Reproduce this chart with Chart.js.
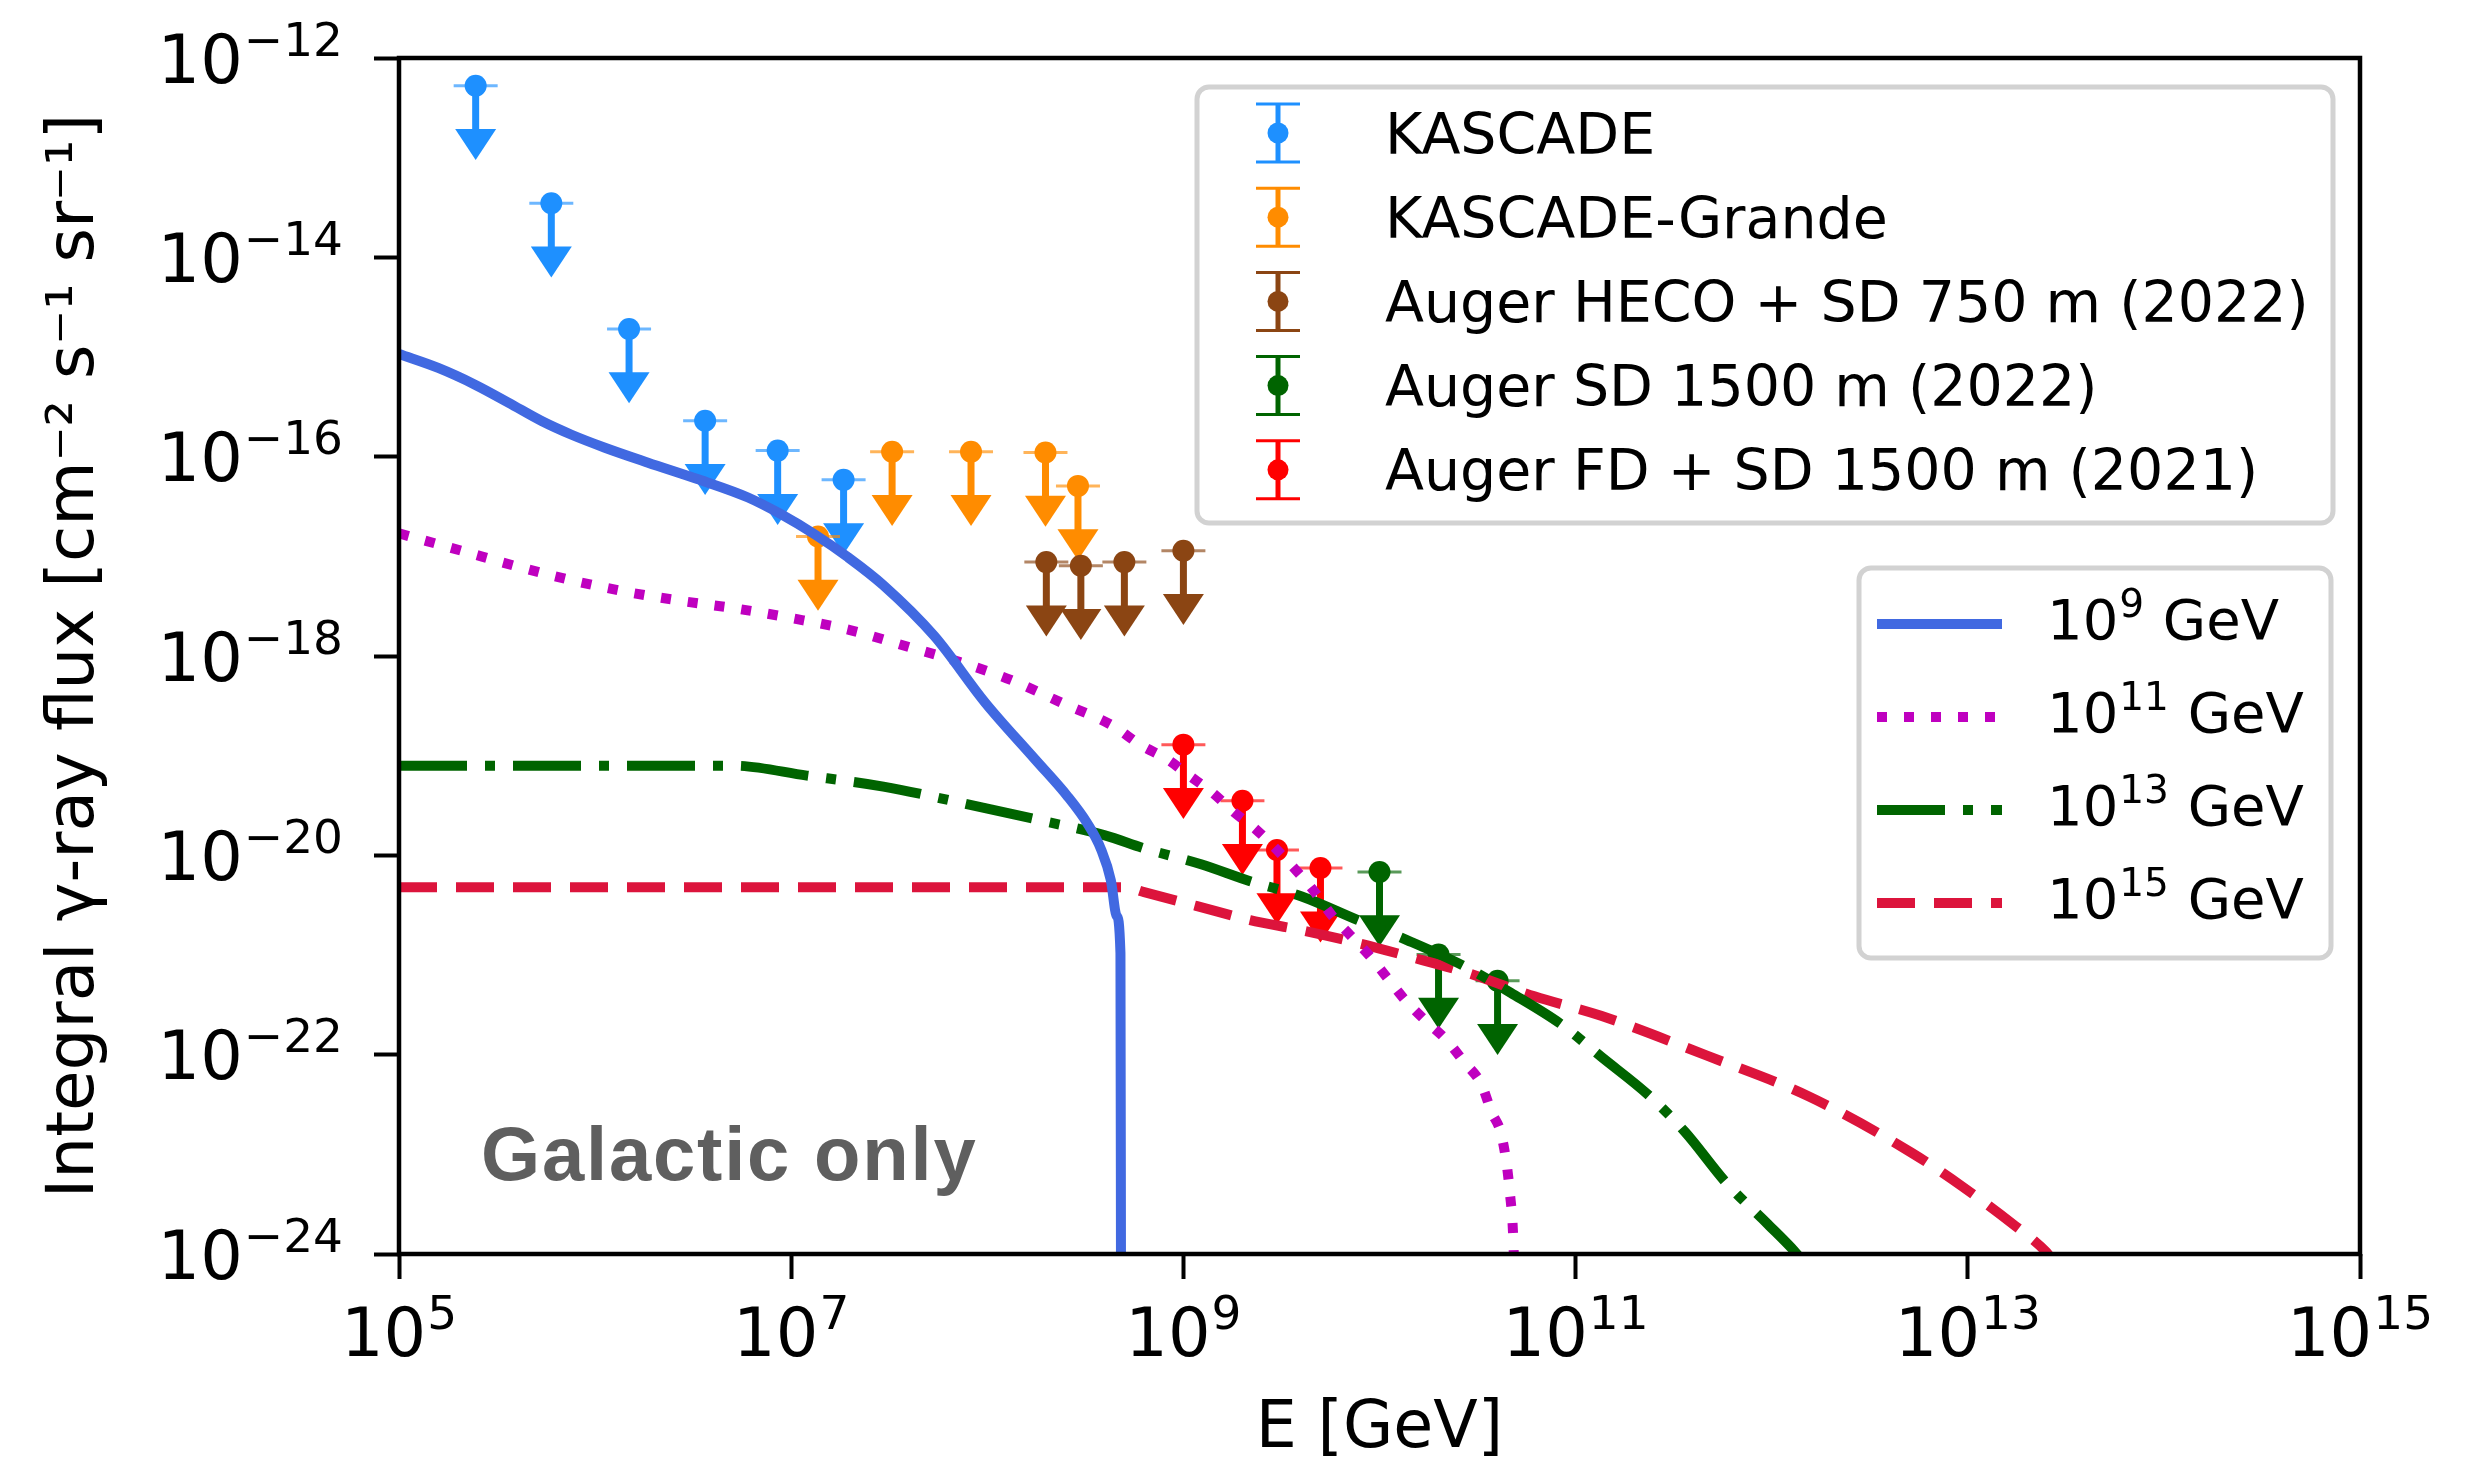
<!DOCTYPE html>
<html lang="en">
<head>
<meta charset="UTF-8">
<title>Integral gamma-ray flux limits</title>
<script src="https://cdn.jsdelivr.net/npm/chart.js"></script>
<style>
  html, body { margin: 0; padding: 0; background: #ffffff; }
  #wrap { width: 2469px; height: 1464px; }
</style>
</head>
<body>
<div id="wrap"><canvas id="chart" width="2469" height="1464"></canvas></div>
<script>
// upper limits: E [GeV] and integral flux [cm^-2 s^-1 sr^-1]
const kascadeE = [2.46e5, 5.98e5, 1.49e6, 3.64e6, 8.53e6, 1.85e7];
const kascadeF = [5.27e-13, 3.49e-14, 1.91e-15, 2.29e-16, 1.15e-16, 5.85e-17];
const grandeE = [1.37e7, 3.27e7, 8.26e7, 1.98e8, 2.90e8];
const grandeF = [1.58e-17, 1.12e-16, 1.12e-16, 1.10e-16, 5.09e-17];
const hecoE = [2e8, 3e8, 5e8, 1e9];
const hecoF = [8.75e-18, 8.04e-18, 8.75e-18, 1.14e-17];
const sd1500E = [1e10, 2e10, 4e10];
const sd1500F = [6.8e-21, 1.01e-21, 5.52e-22];
const fdsdE = [1e9, 2e9, 3e9, 5e9];
const fdsdF = [1.29e-19, 3.53e-20, 1.13e-20, 7.45e-21];

// model curves, stored as log10(E) and log10(flux)
const c9LogE = [5.0, 5.2, 5.39, 5.56, 5.73, 5.88, 6.05, 6.27, 6.53, 6.78, 6.95, 7.12, 7.29, 7.47, 7.73, 7.99, 8.245, 8.41, 8.51, 8.58, 8.63, 8.66, 8.679, 8.682];
const c9LogF = [-14.97, -15.11, -15.28, -15.46, -15.645, -15.78, -15.91, -16.06, -16.23, -16.41, -16.58, -16.78, -17.01, -17.29, -17.80, -18.47, -19.04, -19.41, -19.68, -19.94, -20.25, -20.61, -20.98, -24.6];
const c11LogE = [5.0, 5.32, 5.6, 5.88, 6.17, 6.45, 6.74, 7.03, 7.30, 7.60, 7.86, 8.12, 8.38, 8.64, 8.78, 8.92, 9.03, 9.15, 9.26, 9.37, 9.57, 9.66, 9.76, 9.85, 9.95, 10.04, 10.13, 10.23, 10.34, 10.43, 10.52, 10.57, 10.625, 10.665, 10.684, 10.69];
const c11LogF = [-16.77, -16.945, -17.10, -17.24, -17.36, -17.45, -17.53, -17.63, -17.74, -17.91, -18.06, -18.24, -18.47, -18.70, -18.89, -19.04, -19.20, -19.375, -19.57, -19.74, -20.14, -20.345, -20.61, -20.80, -21.01, -21.23, -21.45, -21.65, -21.85, -22.07, -22.30, -22.57, -22.835, -23.39, -23.95, -24.5];
const c13LogE = [5.0, 6.7, 7.08, 7.47, 7.86, 8.25, 8.6, 8.80, 9.09, 9.34, 9.60, 9.89, 10.14, 10.43, 10.67, 10.93, 11.13, 11.38, 11.56, 11.77, 11.98, 12.12, 12.15];
const c13LogF = [-19.10, -19.10, -19.20, -19.31, -19.47, -19.64, -19.80, -19.93, -20.09, -20.26, -20.41, -20.65, -20.85, -21.11, -21.38, -21.70, -22.02, -22.42, -22.78, -23.29, -23.70, -23.98, -24.05];
const c15LogE = [5.0, 8.7, 8.80, 9.07, 9.34, 9.60, 9.89, 10.14, 10.45, 10.79, 11.13, 11.67, 12.19, 12.71, 12.97, 13.23, 13.40, 13.42];
const c15LogF = [-20.32, -20.32, -20.37, -20.51, -20.65, -20.75, -20.88, -21.01, -21.18, -21.415, -21.61, -22.01, -22.42, -22.98, -23.32, -23.70, -23.98, -24.03];

const xTicks = [1e5, 1e7, 1e9, 1e11, 1e13, 1e15];
const yTicks = [1e-24, 1e-22, 1e-20, 1e-18, 1e-16, 1e-14, 1e-12];

const FONT = 'DejaVu Sans';
const TICK_SIZE = 67;
const ARROW_FACTOR = Math.pow(10, -0.59); // lower end of the limit arrow

const pts = (xs, ys) => xs.map((e, i) => ({ x: e, y: ys[i] }));
const logPts = (xs, ys) => xs.map((e, i) => ({ x: Math.pow(10, e), y: Math.pow(10, ys[i]) }));
const expOf = v => String(Math.round(Math.log10(v))).replace('-', '\u2212');

function curve(label, exp, lx, ly, color, dash) {
  return {
    label: label, exp: exp, data: logPts(lx, ly), showLine: true,
    borderColor: color, backgroundColor: color, borderWidth: 10,
    borderDash: dash, borderCapStyle: 'butt', pointRadius: 0, pointHoverRadius: 0,
    cubicInterpolationMode: 'monotone', fill: false
  };
}
function limits(label, xs, ys, color) {
  return {
    label: label, data: pts(xs, ys), upperLimit: true,
    backgroundColor: color, borderColor: color, pointRadius: 11,
    pointHoverRadius: 11, pointBorderWidth: 0, showLine: false
  };
}

const curves = [
  curve('10^9 GeV', '9', c9LogE, c9LogF, '#4169E1', []),
  curve('10^11 GeV', '11', c11LogE, c11LogF, '#BF00BF', [10, 17]),
  curve('10^13 GeV', '13', c13LogE, c13LogF, '#006400', [68, 18, 10, 18]),
  curve('10^15 GeV', '15', c15LogE, c15LogF, '#DC143C', [38, 19])
];
const measurements = [
  limits('KASCADE', kascadeE, kascadeF, '#1E90FF'),
  limits('KASCADE-Grande', grandeE, grandeF, '#FF8C00'),
  limits('Auger HECO + SD 750 m (2022)', hecoE, hecoF, '#8B4513'),
  limits('Auger SD 1500 m (2022)', sd1500E, sd1500F, '#006400'),
  limits('Auger FD + SD 1500 m (2021)', fdsdE, fdsdF, '#FF0000')
];

// arrows of the upper limits, drawn under the markers
const limitArrows = {
  id: 'limitArrows',
  beforeDatasetsDraw(chart) {
    const { ctx, chartArea: a, scales: { x, y } } = chart;
    ctx.save();
    ctx.beginPath();
    ctx.rect(a.left, a.top, a.right - a.left, a.bottom - a.top);
    ctx.clip();
    chart.data.datasets.forEach(ds => {
      if (!ds.upperLimit) return;
      ds.data.forEach(p => {
        const px = x.getPixelForValue(p.x);
        const py = y.getPixelForValue(p.y);
        const pc = y.getPixelForValue(p.y * ARROW_FACTOR);
        ctx.strokeStyle = ds.borderColor;
        ctx.lineWidth = 7;
        ctx.beginPath();
        ctx.moveTo(px, py);
        ctx.lineTo(px, pc - 14);
        ctx.stroke();
        ctx.globalAlpha = 0.65;
        ctx.lineWidth = 3;
        ctx.beginPath();
        ctx.moveTo(px - 22, py);
        ctx.lineTo(px + 22, py);
        ctx.stroke();
        ctx.globalAlpha = 1;
        ctx.fillStyle = ds.backgroundColor;
        ctx.beginPath();
        ctx.moveTo(px - 20.5, pc - 15.5);
        ctx.lineTo(px + 20.5, pc - 15.5);
        ctx.lineTo(px, pc + 15.5);
        ctx.closePath();
        ctx.fill();
      });
    });
    ctx.restore();
  }
};

// "10" with a raised exponent, like matplotlib mathtext
function powWidth(ctx, exp, size) {
  ctx.font = size + 'px "' + FONT + '"';
  const w1 = ctx.measureText('10').width;
  ctx.font = Math.round(size * 0.7) + 'px "' + FONT + '"';
  return w1 + 1 + ctx.measureText(exp).width;
}
function drawPow(ctx, x, base, exp, rest, size) {
  ctx.font = size + 'px "' + FONT + '"';
  ctx.fillText('10', x, base);
  const w1 = ctx.measureText('10').width;
  ctx.font = Math.round(size * 0.7) + 'px "' + FONT + '"';
  ctx.fillText(exp, x + w1 + 1, base - size * 0.4);
  const w2 = ctx.measureText(exp).width;
  if (rest) {
    ctx.font = size + 'px "' + FONT + '"';
    ctx.fillText(rest, x + w1 + w2 + 2, base);
  }
}

function legendBox(ctx, x0, y0, x1, y1) {
  ctx.save();
  ctx.fillStyle = 'rgba(255,255,255,0.8)';
  ctx.strokeStyle = '#d2d2d2';
  ctx.lineWidth = 5;
  ctx.beginPath();
  ctx.roundRect(x0, y0, x1 - x0, y1 - y0, 12);
  ctx.fill();
  ctx.stroke();
  ctx.restore();
}

const decorations = {
  id: 'decorations',
  afterDatasetsDraw(chart) {
    const { ctx, chartArea: a } = chart;
    ctx.save();
    ctx.strokeStyle = '#000';
    ctx.lineWidth = 4.5;
    ctx.strokeRect(a.left, a.top, a.right - a.left, a.bottom - a.top);
    ctx.fillStyle = '#5f5f5f';
    ctx.font = 'bold 76px "Liberation Sans"';
    ctx.letterSpacing = '1.8px';
    ctx.textBaseline = 'alphabetic';
    ctx.fillText('Galactic only', 481, 1180);
    ctx.restore();
  },
  afterDraw(chart) {
    const ctx = chart.ctx;
    const { x: xs, y: ys } = chart.scales;
    ctx.save();
    ctx.fillStyle = '#000';
    ctx.textBaseline = 'alphabetic';
    // tick labels from the scales
    xs.ticks.forEach(t => {
      const px = xs.getPixelForValue(t.value);
      const e = expOf(t.value);
      drawPow(ctx, px - powWidth(ctx, e, TICK_SIZE) / 2, 1356, e, '', TICK_SIZE);
    });
    ys.ticks.forEach(t => {
      const py = ys.getPixelForValue(t.value);
      const e = expOf(t.value);
      drawPow(ctx, 343 - powWidth(ctx, e, TICK_SIZE), py + 24.5, e, '', TICK_SIZE);
    });
    // legend of the measurements
    legendBox(ctx, 1197, 87, 2333, 523);
    measurements.forEach((ds, i) => {
      const cy = 133 + i * 84.2;
      const cx = 1278;
      ctx.strokeStyle = ds.borderColor;
      ctx.lineWidth = 5;
      ctx.beginPath();
      ctx.moveTo(cx, cy - 29);
      ctx.lineTo(cx, cy + 29);
      ctx.stroke();
      ctx.lineWidth = 3;
      ctx.beginPath();
      ctx.moveTo(cx - 22, cy - 29); ctx.lineTo(cx + 22, cy - 29);
      ctx.moveTo(cx - 22, cy + 29); ctx.lineTo(cx + 22, cy + 29);
      ctx.stroke();
      ctx.fillStyle = ds.backgroundColor;
      ctx.beginPath();
      ctx.arc(cx, cy, 10.5, 0, Math.PI * 2);
      ctx.fill();
      ctx.fillStyle = '#000';
      ctx.font = '57px "' + FONT + '"';
      ctx.fillText(ds.label, 1385, cy + 20.6);
    });
    // legend of the model curves
    legendBox(ctx, 1859, 568, 2331, 958);
    curves.forEach((ds, i) => {
      const cy = 624 + i * 93;
      ctx.strokeStyle = ds.borderColor;
      ctx.lineWidth = 10;
      ctx.lineCap = 'butt';
      ctx.setLineDash(ds.borderDash);
      ctx.beginPath();
      ctx.moveTo(1877, cy);
      ctx.lineTo(2002, cy);
      ctx.stroke();
      ctx.setLineDash([]);
      ctx.fillStyle = '#000';
      drawPow(ctx, 2047, cy + 15, ds.exp, ' GeV', 56);
    });
    ctx.restore();
  }
};

new Chart(document.getElementById('chart'), {
  type: 'scatter',
  data: { datasets: curves.concat(measurements) },
  options: {
    responsive: false,
    animation: false,
    devicePixelRatio: 1,
    layout: { padding: { top: 58, right: 109, left: 0, bottom: 0 } },
    plugins: { legend: { display: false }, tooltip: { enabled: false } },
    scales: {
      x: {
        type: 'logarithmic', min: 1e5, max: 1e15, position: 'bottom',
        afterBuildTicks: s => { s.ticks = xTicks.map(v => ({ value: v })); },
        afterFit: s => { s.height = 210; s.paddingLeft = 0; s.paddingRight = 0; },
        ticks: { callback: () => '', autoSkip: false, maxRotation: 0, font: { family: FONT, size: 66 } },
        grid: { display: true, drawOnChartArea: false, drawTicks: true, tickLength: 25, tickWidth: 4, tickColor: '#000' },
        border: { display: false },
        title: {
          display: true, text: 'E [GeV]', color: '#000',
          font: { family: FONT, size: 65, lineHeight: 1 }, padding: { top: 0, bottom: 1 }
        }
      },
      y: {
        type: 'logarithmic', min: 1e-24, max: 1e-12, position: 'left',
        afterBuildTicks: s => { s.ticks = yTicks.map(v => ({ value: v })); },
        afterFit: s => { s.width = 399; s.paddingTop = 0; s.paddingBottom = 0; },
        ticks: { callback: () => '', autoSkip: false, font: { family: FONT, size: 66 } },
        grid: { display: true, drawOnChartArea: false, drawTicks: true, tickLength: 25, tickWidth: 4, tickColor: '#000' },
        border: { display: false },
        title: {
          display: true, text: 'Integral γ-ray flux [cm⁻² s⁻¹ sr⁻¹]', color: '#000',
          font: { family: FONT, size: 66, lineHeight: 1 }, padding: { top: 43, bottom: 0 }
        }
      }
    }
  },
  plugins: [limitArrows, decorations]
});
</script>
</body>
</html>
